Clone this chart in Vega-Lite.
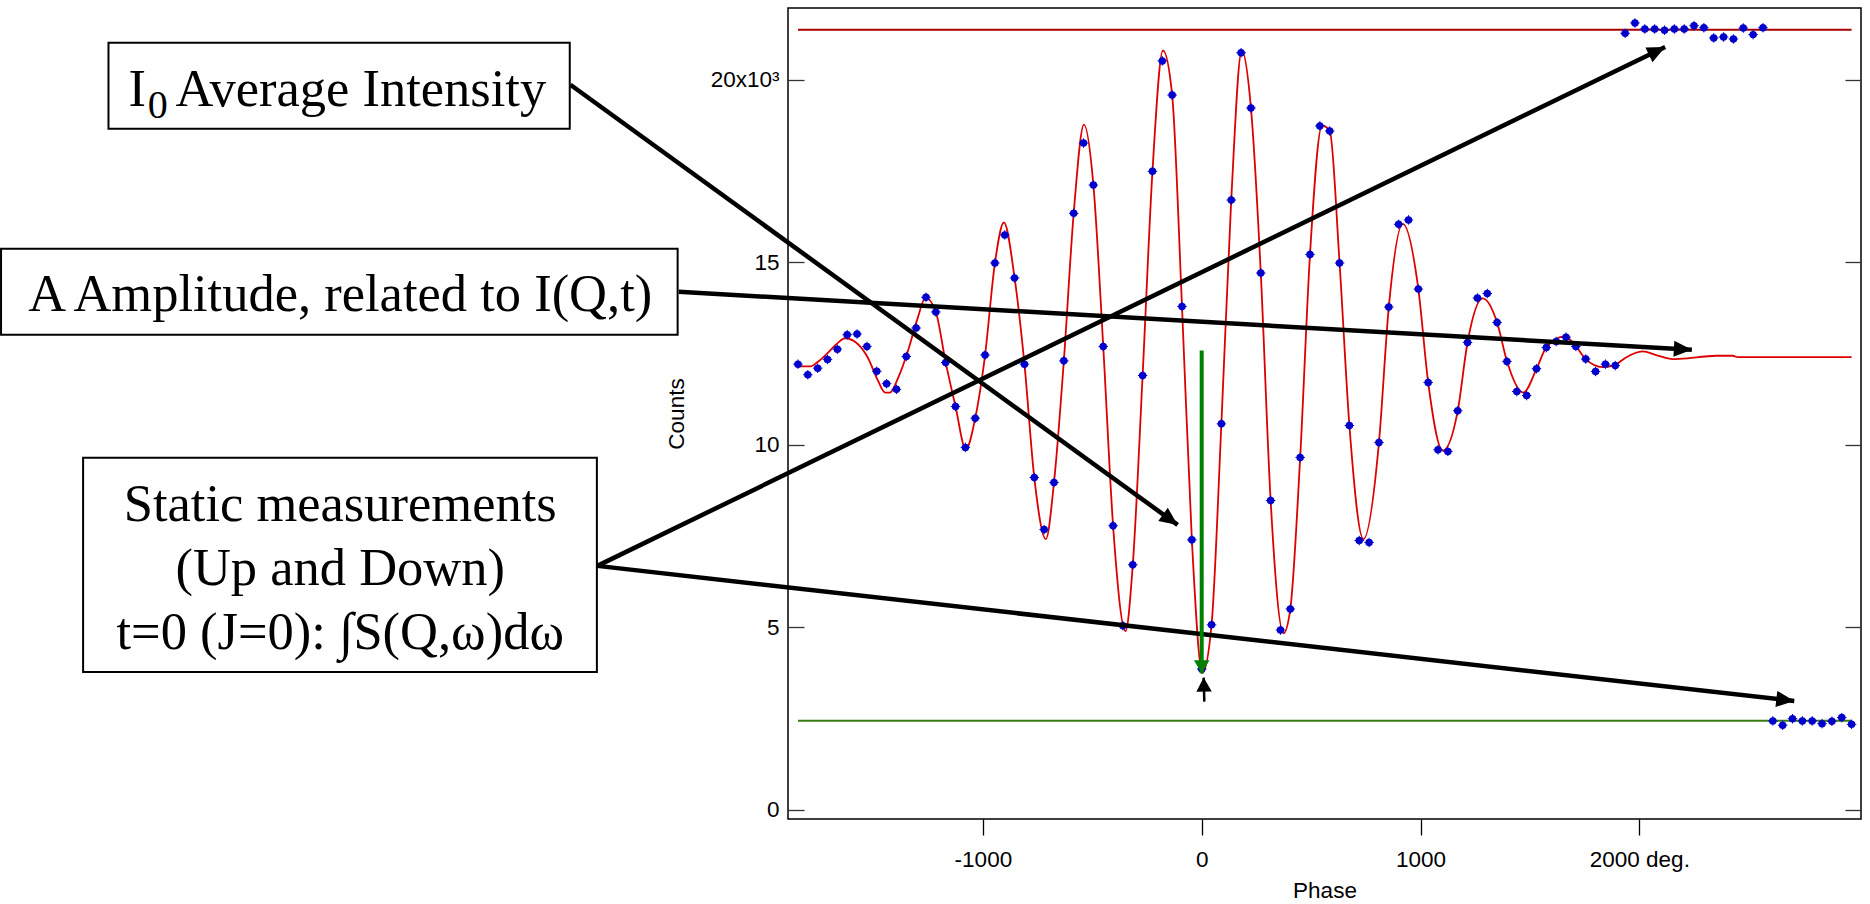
{
  "$schema": "https://vega.github.io/schema/vega-lite/v6.json",
  "width": 1073,
  "height": 811,
  "autosize": {"type": "none"},
  "padding": {"left": 788, "top": 8, "right": 9, "bottom": 85},
  "background": "white",
  "config": {
    "view": {"stroke": "black", "strokeWidth": 1.5},
    "font": "Liberation Sans"
  },
  "datasets": {
    "obs": [
      {"phase": -1845, "counts": 12210}, {"phase": -1800, "counts": 11920}, {"phase": -1755, "counts": 12100},
      {"phase": -1710, "counts": 12340}, {"phase": -1665, "counts": 12620}, {"phase": -1620, "counts": 13015},
      {"phase": -1575, "counts": 13035}, {"phase": -1530, "counts": 12695}, {"phase": -1485, "counts": 12015},
      {"phase": -1440, "counts": 11675}, {"phase": -1395, "counts": 11520}, {"phase": -1350, "counts": 12420},
      {"phase": -1305, "counts": 13200}, {"phase": -1260, "counts": 14040}, {"phase": -1215, "counts": 13640},
      {"phase": -1170, "counts": 12255}, {"phase": -1125, "counts": 11050}, {"phase": -1080, "counts": 9930},
      {"phase": -1035, "counts": 10730}, {"phase": -990, "counts": 12460}, {"phase": -945, "counts": 14980},
      {"phase": -900, "counts": 15750}, {"phase": -855, "counts": 14570}, {"phase": -810, "counts": 12210},
      {"phase": -765, "counts": 9105}, {"phase": -720, "counts": 7680}, {"phase": -675, "counts": 8970},
      {"phase": -630, "counts": 12300}, {"phase": -585, "counts": 16340}, {"phase": -540, "counts": 18265},
      {"phase": -495, "counts": 17115}, {"phase": -450, "counts": 12695}, {"phase": -405, "counts": 7785},
      {"phase": -360, "counts": 5045}, {"phase": -315, "counts": 6715}, {"phase": -270, "counts": 11900},
      {"phase": -225, "counts": 17490}, {"phase": -180, "counts": 20515}, {"phase": -135, "counts": 19580},
      {"phase": -90, "counts": 13790}, {"phase": -45, "counts": 7400}, {"phase": 0, "counts": 3860},
      {"phase": 45, "counts": 5070}, {"phase": 90, "counts": 10575}, {"phase": 135, "counts": 16705},
      {"phase": 180, "counts": 20740}, {"phase": 225, "counts": 19225}, {"phase": 270, "counts": 14705},
      {"phase": 315, "counts": 8475}, {"phase": 360, "counts": 4930}, {"phase": 405, "counts": 5505},
      {"phase": 450, "counts": 9655}, {"phase": 495, "counts": 15215}, {"phase": 540, "counts": 18735},
      {"phase": 585, "counts": 18595}, {"phase": 630, "counts": 14980}, {"phase": 675, "counts": 10530},
      {"phase": 720, "counts": 7380}, {"phase": 765, "counts": 7325}, {"phase": 810, "counts": 10065},
      {"phase": 855, "counts": 13775}, {"phase": 900, "counts": 16040}, {"phase": 945, "counts": 16160},
      {"phase": 990, "counts": 14265}, {"phase": 1035, "counts": 11710}, {"phase": 1080, "counts": 9865},
      {"phase": 1125, "counts": 9820}, {"phase": 1170, "counts": 10935}, {"phase": 1215, "counts": 12805},
      {"phase": 1260, "counts": 14020}, {"phase": 1305, "counts": 14145}, {"phase": 1350, "counts": 13350},
      {"phase": 1395, "counts": 12285}, {"phase": 1440, "counts": 11460}, {"phase": 1485, "counts": 11350},
      {"phase": 1530, "counts": 12085}, {"phase": 1575, "counts": 12665}, {"phase": 1620, "counts": 12830},
      {"phase": 1665, "counts": 12950}, {"phase": 1710, "counts": 12695}, {"phase": 1755, "counts": 12350},
      {"phase": 1800, "counts": 12010}, {"phase": 1845, "counts": 12210}, {"phase": 1890, "counts": 12170},
      {"phase": 1935, "counts": 21270}, {"phase": 1980, "counts": 21555}, {"phase": 2025, "counts": 21390},
      {"phase": 2070, "counts": 21390}, {"phase": 2115, "counts": 21355}, {"phase": 2160, "counts": 21390},
      {"phase": 2205, "counts": 21390}, {"phase": 2250, "counts": 21480}, {"phase": 2295, "counts": 21425},
      {"phase": 2340, "counts": 21145}, {"phase": 2385, "counts": 21170}, {"phase": 2430, "counts": 21115},
      {"phase": 2475, "counts": 21415}, {"phase": 2520, "counts": 21235}, {"phase": 2565, "counts": 21425},
      {"phase": 2610, "counts": 2440}, {"phase": 2655, "counts": 2320}, {"phase": 2700, "counts": 2500},
      {"phase": 2745, "counts": 2440}, {"phase": 2790, "counts": 2440}, {"phase": 2835, "counts": 2365},
      {"phase": 2880, "counts": 2430}, {"phase": 2925, "counts": 2530}, {"phase": 2970, "counts": 2345}
    ],
    "fit": [
      {"phase": -1845, "counts": 12150}, {"phase": -1787, "counts": 12150}, {"phase": -1755, "counts": 12270},
      {"phase": -1717, "counts": 12470}, {"phase": -1665, "counts": 12780}, {"phase": -1630, "counts": 12920},
      {"phase": -1577, "counts": 12790}, {"phase": -1525, "counts": 12380}, {"phase": -1481, "counts": 11780},
      {"phase": -1446, "counts": 11430}, {"phase": -1425, "counts": 11430}, {"phase": -1385, "counts": 11870},
      {"phase": -1341, "counts": 12600}, {"phase": -1298, "counts": 13470}, {"phase": -1262, "counts": 14030},
      {"phase": -1215, "counts": 13640}, {"phase": -1170, "counts": 12260}, {"phase": -1125, "counts": 11050},
      {"phase": -1078, "counts": 9880}, {"phase": -1035, "counts": 10730}, {"phase": -990, "counts": 12460},
      {"phase": -945, "counts": 14980}, {"phase": -904, "counts": 16090}, {"phase": -855, "counts": 14570},
      {"phase": -810, "counts": 12210}, {"phase": -765, "counts": 9100}, {"phase": -712, "counts": 7420},
      {"phase": -675, "counts": 8970}, {"phase": -630, "counts": 12300}, {"phase": -585, "counts": 16340},
      {"phase": -538, "counts": 18770}, {"phase": -495, "counts": 17120}, {"phase": -450, "counts": 12700},
      {"phase": -405, "counts": 7790}, {"phase": -348, "counts": 4900}, {"phase": -315, "counts": 6710},
      {"phase": -270, "counts": 11900}, {"phase": -225, "counts": 17490}, {"phase": -177, "counts": 20800},
      {"phase": -135, "counts": 19580}, {"phase": -90, "counts": 13790}, {"phase": -45, "counts": 7400},
      {"phase": 3, "counts": 3750}, {"phase": 45, "counts": 5070}, {"phase": 90, "counts": 10580},
      {"phase": 135, "counts": 16710}, {"phase": 183, "counts": 20800}, {"phase": 225, "counts": 19230},
      {"phase": 270, "counts": 14710}, {"phase": 315, "counts": 8480}, {"phase": 374, "counts": 4840},
      {"phase": 405, "counts": 5510}, {"phase": 450, "counts": 9650}, {"phase": 495, "counts": 15220},
      {"phase": 550, "counts": 18740}, {"phase": 585, "counts": 18600}, {"phase": 630, "counts": 14980},
      {"phase": 675, "counts": 10530}, {"phase": 739, "counts": 7420}, {"phase": 810, "counts": 10060},
      {"phase": 855, "counts": 13770}, {"phase": 919, "counts": 16050}, {"phase": 990, "counts": 14270},
      {"phase": 1035, "counts": 11710}, {"phase": 1102, "counts": 9840}, {"phase": 1170, "counts": 10930},
      {"phase": 1215, "counts": 12810}, {"phase": 1284, "counts": 14010}, {"phase": 1350, "counts": 13350},
      {"phase": 1395, "counts": 12290}, {"phase": 1470, "counts": 11430}, {"phase": 1530, "counts": 12080},
      {"phase": 1575, "counts": 12670}, {"phase": 1659, "counts": 12970}, {"phase": 1710, "counts": 12700},
      {"phase": 1755, "counts": 12350}, {"phase": 1833, "counts": 12130}, {"phase": 1890, "counts": 12190},
      {"phase": 1935, "counts": 12380}, {"phase": 2015, "counts": 12560}, {"phase": 2080, "counts": 12450},
      {"phase": 2152, "counts": 12350}, {"phase": 2220, "counts": 12370}, {"phase": 2300, "counts": 12420},
      {"phase": 2351, "counts": 12440}, {"phase": 2427, "counts": 12440}, {"phase": 2450, "counts": 12400},
      {"phase": 2970, "counts": 12400}
    ],
    "levels": [
      {"level": "I0", "phase": -1845, "phase2": 2970, "counts": 21370},
      {"level": "static", "phase": -1845, "phase2": 2970, "counts": 2445}
    ],
    "arrows": [
      {"target": "I0", "tailPhase": -2885, "tailCounts": 19862, "phase": -110, "counts": 7808},
      {"target": "amplitude", "tailPhase": -2390, "tailCounts": 14192, "phase": 2240, "counts": 12603},
      {"target": "up", "tailPhase": -2762, "tailCounts": 6685, "phase": 2118, "counts": 20896},
      {"target": "down", "tailPhase": -2762, "tailCounts": 6685, "phase": 2708, "counts": 2986}
    ],
    "zeroPointer": [{"tailPhase": 0, "tailCounts": 12583, "phase": 0, "counts": 3745}],
    "minPointer": [{"tailPhase": 12, "tailCounts": 2967, "phase": 9, "counts": 3625}],
    "boxes": [
      {"box": "I0", "phase": -4996, "phase2": -2888, "counts": 21014, "counts2": 18657},
      {"box": "amplitude", "phase": -5487, "phase2": -2395, "counts": 15370, "counts2": 13014},
      {"box": "static", "phase": -5112, "phase2": -2764, "counts": 9644, "counts2": 3781}
    ],
    "labelsLeft": [
      {"phase": -4905, "counts": 19287, "label": "I"},
      {"phase": -4690, "counts": 19287, "label": "Average Intensity"}
    ],
    "labelsSub": [
      {"phase": -4817, "counts": 18959, "label": "0"}
    ],
    "labelsCentered": [
      {"phase": -3937, "counts": 13652, "label": "A Amplitude, related to I(Q,t)"},
      {"phase": -3937, "counts": 7926, "label": "Static measurements\n(Up and Down)\nt=0 (J=0): ∫S(Q,ω)dω"}
    ]
  },
  "encoding": {
    "x": {
      "field": "phase",
      "type": "quantitative",
      "scale": {"domain": [-1890.6, 3013], "nice": false, "zero": false},
      "axis": {
        "values": [-1000, 0, 1000, 2000],
        "labelExpr": "datum.value == 2000 ? '2000 deg.' : (datum.value < 0 ? '-' + abs(datum.value) : '' + datum.value)",
        "tickSize": 16,
        "tickColor": "black",
        "tickWidth": 1.3,
        "labelPadding": 13,
        "labelFont": "Liberation Sans",
        "labelFontSize": 22.5,
        "labelColor": "black",
        "labelOverlap": false,
        "labelFlush": false,
        "domain": false,
        "grid": false,
        "title": "Phase",
        "titleFont": "Liberation Sans",
        "titleFontSize": 22.5,
        "titleFontWeight": "normal",
        "titleColor": "black",
        "titlePadding": 9
      }
    },
    "y": {
      "field": "counts",
      "type": "quantitative",
      "scale": {"domain": [-247, 21964], "nice": false, "zero": false},
      "axis": null
    }
  },
  "layer": [
    {
      "data": {"name": "levels"},
      "transform": [{"filter": "datum.level == 'I0'"}],
      "mark": {"type": "rule", "color": "#A80000", "strokeWidth": 2},
      "encoding": {"x2": {"field": "phase2"}}
    },
    {
      "data": {"name": "levels"},
      "transform": [{"filter": "datum.level == 'static'"}],
      "mark": {"type": "rule", "color": "#3A7D12", "strokeWidth": 2},
      "encoding": {"x2": {"field": "phase2"}}
    },
    {
      "data": {"name": "fit"},
      "mark": {"type": "line", "color": "#DD0000", "strokeWidth": 1.8, "interpolate": "monotone"},
      "encoding": {
        "y": {
          "field": "counts",
          "type": "quantitative",
          "axis": {
            "orient": "left",
            "values": [0, 5000, 10000, 15000, 20000],
            "labelExpr": "datum.value == 20000 ? '20x10³' : format(datum.value / 1000, 'd')",
            "tickSize": -16,
            "tickColor": "#333333",
            "tickWidth": 1.3,
            "labelPadding": 25,
            "labelFont": "Liberation Sans",
            "labelFontSize": 22.5,
            "labelColor": "black",
            "labelOverlap": false,
            "labelFlush": false,
            "domain": false,
            "grid": false,
            "title": "Counts",
            "titleFont": "Liberation Sans",
            "titleFontSize": 22.5,
            "titleFontWeight": "normal",
            "titleColor": "black",
            "titlePadding": 22
          }
        }
      }
    },
    {
      "data": {"name": "obs"},
      "mark": {"type": "point", "shape": "M-1,0H1M0,-1V1", "filled": false, "color": "#0000CC", "strokeWidth": 1, "size": 90, "opacity": 1}
    },
    {
      "data": {"name": "obs"},
      "mark": {"type": "circle", "color": "#0000CC", "size": 56, "opacity": 1},
      "encoding": {
        "y": {
          "field": "counts",
          "type": "quantitative",
          "axis": {
            "orient": "right",
            "values": [0, 5000, 10000, 15000, 20000],
            "labels": false,
            "tickSize": -16,
            "tickColor": "#333333",
            "tickWidth": 1.3,
            "domain": false,
            "grid": false,
            "title": null
          }
        }
      }
    },
    {
      "data": {"name": "arrows"},
      "mark": {"type": "rule", "color": "black", "strokeWidth": 4.5, "strokeCap": "butt"},
      "encoding": {"x2": {"field": "tailPhase"}, "y2": {"field": "tailCounts"}}
    },
    {
      "data": {"name": "arrows"},
      "mark": {
        "type": "point",
        "shape": "M0,0L-1,-0.45L-1,0.45Z",
        "size": 1296,
        "filled": true,
        "color": "black",
        "opacity": 1,
        "angle": {"expr": "atan2(scale('y', datum.counts) - scale('y', datum.tailCounts), scale('x', datum.phase) - scale('x', datum.tailPhase)) * 180 / PI"}
      }
    },
    {
      "data": {"name": "zeroPointer"},
      "mark": {"type": "rule", "color": "#008000", "strokeWidth": 4, "strokeCap": "butt"},
      "encoding": {"x2": {"field": "tailPhase"}, "y2": {"field": "tailCounts"}}
    },
    {
      "data": {"name": "zeroPointer"},
      "mark": {
        "type": "point",
        "shape": "M0,0L-1,-0.6L-1,0.6Z",
        "size": 676,
        "filled": true,
        "color": "#008000",
        "opacity": 1,
        "angle": {"expr": "atan2(scale('y', datum.counts) - scale('y', datum.tailCounts), scale('x', datum.phase) - scale('x', datum.tailPhase)) * 180 / PI"}
      }
    },
    {
      "data": {"name": "minPointer"},
      "mark": {"type": "rule", "color": "black", "strokeWidth": 2.5, "strokeCap": "butt"},
      "encoding": {"x2": {"field": "tailPhase"}, "y2": {"field": "tailCounts"}}
    },
    {
      "data": {"name": "minPointer"},
      "mark": {
        "type": "point",
        "shape": "M0,0L-1,-0.55L-1,0.55Z",
        "size": 784,
        "filled": true,
        "color": "black",
        "opacity": 1,
        "angle": {"expr": "atan2(scale('y', datum.counts) - scale('y', datum.tailCounts), scale('x', datum.phase) - scale('x', datum.tailPhase)) * 180 / PI"}
      }
    },
    {
      "data": {"name": "boxes"},
      "mark": {"type": "rect", "fill": "white", "stroke": "black", "strokeWidth": 2},
      "encoding": {"x2": {"field": "phase2"}, "y2": {"field": "counts2"}}
    },
    {
      "data": {"name": "labelsLeft"},
      "mark": {"type": "text", "font": "Liberation Serif", "fontSize": 52.5, "align": "left", "baseline": "alphabetic", "color": "black"},
      "encoding": {"text": {"field": "label"}}
    },
    {
      "data": {"name": "labelsSub"},
      "mark": {"type": "text", "font": "Liberation Serif", "fontSize": 40, "align": "left", "baseline": "alphabetic", "color": "black"},
      "encoding": {"text": {"field": "label"}}
    },
    {
      "data": {"name": "labelsCentered"},
      "mark": {"type": "text", "font": "Liberation Serif", "fontSize": 52.5, "align": "center", "baseline": "alphabetic", "lineBreak": "\n", "lineHeight": 64, "color": "black"},
      "encoding": {"text": {"field": "label"}}
    }
  ],
  "resolve": {"axis": {"y": "independent"}}
}
